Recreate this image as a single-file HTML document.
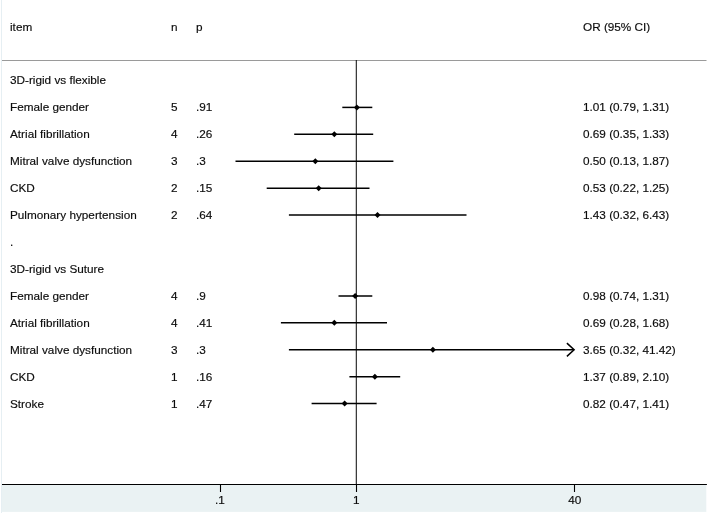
<!DOCTYPE html>
<html><head><meta charset="utf-8"><title>Forest plot</title>
<style>
html,body{margin:0;padding:0;background:#fff;}
svg{display:block;}
text{font-family:"Liberation Sans",sans-serif;font-size:11.76px;fill:#0c0c0c;stroke:#0c0c0c;stroke-width:0.16px;}
</style></head><body>
<svg width="708" height="513" viewBox="0 0 708 513">
<rect x="0" y="0" width="708" height="513" fill="#ffffff"/>
<rect x="1" y="0" width="1" height="513" fill="#e6eff3"/>
<rect x="2" y="485" width="704.3" height="26.9" fill="#eaf2f3"/>
<line x1="2" y1="60.5" x2="706.5" y2="60.5" stroke="#9a9a9a" stroke-width="1"/>
<line x1="356.3" y1="60" x2="356.3" y2="484.5" stroke="#111" stroke-width="1.05"/>
<line x1="2" y1="484.5" x2="706.9" y2="484.5" stroke="#000" stroke-width="1.15"/>
<line x1="220.5" y1="484.5" x2="220.5" y2="492" stroke="#000" stroke-width="1.1"/>
<text x="220.0" y="504.2" text-anchor="middle">.1</text>
<line x1="356.5" y1="484.5" x2="356.5" y2="492" stroke="#000" stroke-width="1.1"/>
<text x="356.3" y="504.2" text-anchor="middle">1</text>
<line x1="574.5" y1="484.5" x2="574.5" y2="492" stroke="#000" stroke-width="1.1"/>
<text x="574.7" y="504.2" text-anchor="middle">40</text>
<text x="10" y="30.9">item</text>
<text x="171" y="30.9">n</text>
<text x="196" y="30.9">p</text>
<text x="583" y="30.9">OR (95% CI)</text>
<text x="10" y="84">3D-rigid vs flexible</text>
<text x="10" y="111">Female gender</text>
<text x="171" y="111">5</text>
<text x="196" y="111">.91</text>
<text x="583" y="111">1.01 (0.79, 1.31)</text>
<line x1="342.3" y1="107.4" x2="372.3" y2="107.4" stroke="#000" stroke-width="1.5"/>
<polygon points="353.9,107.4 356.9,104.4 359.9,107.4 356.9,110.4" fill="#000"/>
<text x="10" y="138">Atrial fibrillation</text>
<text x="171" y="138">4</text>
<text x="196" y="138">.26</text>
<text x="583" y="138">0.69 (0.35, 1.33)</text>
<line x1="294.2" y1="134.3" x2="373.2" y2="134.3" stroke="#000" stroke-width="1.5"/>
<polygon points="331.3,134.3 334.3,131.3 337.3,134.3 334.3,137.3" fill="#000"/>
<text x="10" y="165">Mitral valve dysfunction</text>
<text x="171" y="165">3</text>
<text x="196" y="165">.3</text>
<text x="583" y="165">0.50 (0.13, 1.87)</text>
<line x1="235.5" y1="161.2" x2="393.4" y2="161.2" stroke="#000" stroke-width="1.5"/>
<polygon points="312.3,161.2 315.3,158.2 318.3,161.2 315.3,164.2" fill="#000"/>
<text x="10" y="192">CKD</text>
<text x="171" y="192">2</text>
<text x="196" y="192">.15</text>
<text x="583" y="192">0.53 (0.22, 1.25)</text>
<line x1="266.7" y1="188.2" x2="369.5" y2="188.2" stroke="#000" stroke-width="1.5"/>
<polygon points="315.7,188.2 318.7,185.2 321.7,188.2 318.7,191.2" fill="#000"/>
<text x="10" y="219">Pulmonary hypertension</text>
<text x="171" y="219">2</text>
<text x="196" y="219">.64</text>
<text x="583" y="219">1.43 (0.32, 6.43)</text>
<line x1="288.9" y1="215.1" x2="466.5" y2="215.1" stroke="#000" stroke-width="1.5"/>
<polygon points="374.5,215.1 377.5,212.1 380.5,215.1 377.5,218.1" fill="#000"/>
<text x="10" y="246">.</text>
<text x="10" y="273">3D-rigid vs Suture</text>
<text x="10" y="300">Female gender</text>
<text x="171" y="300">4</text>
<text x="196" y="300">.9</text>
<text x="583" y="300">0.98 (0.74, 1.31)</text>
<line x1="338.5" y1="295.9" x2="372.3" y2="295.9" stroke="#000" stroke-width="1.5"/>
<polygon points="352.1,295.9 355.1,292.9 358.1,295.9 355.1,298.9" fill="#000"/>
<text x="10" y="327">Atrial fibrillation</text>
<text x="171" y="327">4</text>
<text x="196" y="327">.41</text>
<text x="583" y="327">0.69 (0.28, 1.68)</text>
<line x1="280.9" y1="322.8" x2="387.0" y2="322.8" stroke="#000" stroke-width="1.5"/>
<polygon points="331.3,322.8 334.3,319.8 337.3,322.8 334.3,325.8" fill="#000"/>
<text x="10" y="354">Mitral valve dysfunction</text>
<text x="171" y="354">3</text>
<text x="196" y="354">.3</text>
<text x="583" y="354">3.65 (0.32, 41.42)</text>
<line x1="288.9" y1="349.8" x2="574.1" y2="349.8" stroke="#000" stroke-width="1.5"/>
<polyline points="566.9,343.1 574.1,349.8 566.9,356.4" fill="none" stroke="#000" stroke-width="1.5"/>
<polygon points="429.9,349.8 432.9,346.8 435.9,349.8 432.9,352.8" fill="#000"/>
<text x="10" y="381">CKD</text>
<text x="171" y="381">1</text>
<text x="196" y="381">.16</text>
<text x="583" y="381">1.37 (0.89, 2.10)</text>
<line x1="349.4" y1="376.7" x2="400.2" y2="376.7" stroke="#000" stroke-width="1.5"/>
<polygon points="371.9,376.7 374.9,373.7 377.9,376.7 374.9,379.7" fill="#000"/>
<text x="10" y="408">Stroke</text>
<text x="171" y="408">1</text>
<text x="196" y="408">.47</text>
<text x="583" y="408">0.82 (0.47, 1.41)</text>
<line x1="311.6" y1="403.6" x2="376.6" y2="403.6" stroke="#000" stroke-width="1.5"/>
<polygon points="341.6,403.6 344.6,400.6 347.6,403.6 344.6,406.6" fill="#000"/>
</svg>
</body></html>
